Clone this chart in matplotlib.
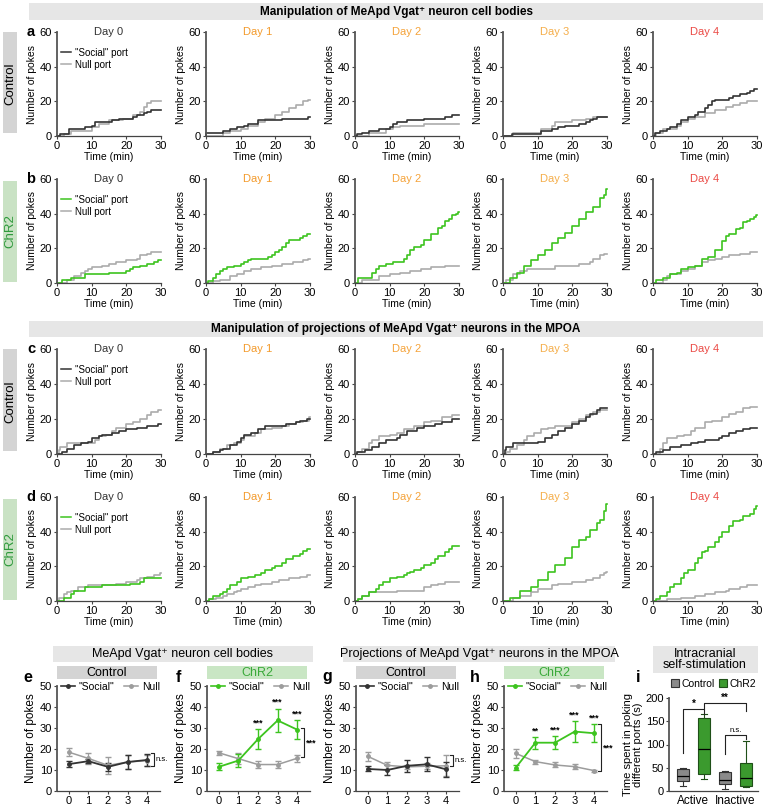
import matplotlib
matplotlib.use("Agg")
import matplotlib.pyplot as plt
from matplotlib.patches import Rectangle, Patch
from matplotlib.lines import Line2D
import numpy as np

plt.rcParams['font.family'] = ['Liberation Sans', 'DejaVu Sans']

W, H = 767, 807

GREEN = '#3dc41f'
DARK = '#333333'
LIGHT = '#ababab'
DAYS = ['Day 0', 'Day 1', 'Day 2', 'Day 3', 'Day 4']
DAY_COLORS = ['#333333', '#f39a2b', '#f5a33a', '#f5ae4a', '#eb4a45']

# cumulative pokes, (time min, count) knots per day 0..4
row_a_social = [
    [(1, 1), (3.5, 4), (8, 5), (10, 6), (11, 8), (16, 9), (18, 10), (22, 11), (23, 12), (25, 13), (26, 14), (27, 15)],
    [(0, 2), (5, 3), (7, 4), (9, 5), (11, 6), (12, 7), (15, 9), (22, 10), (29.5, 11)],
    [(0.5, 1), (2, 2), (4, 3), (7, 4), (10, 5), (11, 7), (12, 8), (15, 9), (20, 10), (26, 11), (28, 12)],
    [(2.5, 1), (11, 3), (14, 4), (16, 5), (18, 6), (22, 7), (24, 8), (25, 9), (26, 10), (27, 11)],
    [(0.5, 2), (2, 3), (4, 4), (5, 5), (7, 7), (8, 9), (10, 11), (12, 12), (13, 14), (15, 16), (16, 18),
     (17, 20), (18, 21), (22, 22), (23, 23), (25, 24), (27, 25), (28, 26), (29, 27)],
]
row_a_null = [
    [(2, 1), (4, 3), (10, 5), (12, 7), (15, 9), (19, 10), (22, 12), (24, 14), (25, 17), (26, 19), (27, 20)],
    [(5, 2), (7, 3), (10, 4), (12, 6), (15, 8), (17, 10), (20, 12), (22, 14), (24, 16), (26, 18), (28, 20), (29.5, 21)],
    [(4, 2), (9, 4), (11, 5), (13, 6), (20, 7)],
    [(3, 2), (11, 4), (14, 6), (15, 8), (20, 9), (24, 10), (26, 11)],
    [(1, 2), (3, 4), (7, 6), (8, 8), (10, 10), (12, 11), (15, 13), (18, 15), (21, 17), (23, 18), (25, 19), (27, 20)],
]
row_b_social = [
    [(1.5, 2), (4, 3), (8, 5), (15, 6), (20, 7), (21, 8), (22, 9), (24, 10), (26, 11), (28, 12), (29, 13)],
    [(0.5, 1), (2, 3), (3, 5), (4, 7), (5, 8), (6, 9), (8, 10), (10, 11), (11, 12), (12, 13), (13, 14), (18, 15),
     (19, 16), (20, 18), (21, 19), (22, 21), (23, 23), (24, 25), (27, 26), (28, 27), (29, 28)],
    [(1, 3), (5, 6), (6, 8), (7, 10), (9, 11), (11, 12), (14, 14), (15, 16), (16, 19), (17, 21), (19, 22),
     (20, 25), (22, 28), (24, 32), (25, 33), (26, 36), (27, 37), (28, 39), (29, 40), (29.8, 41)],
    [(2, 3), (4, 6), (6, 10), (8, 13), (10, 16), (12, 19), (14, 23), (16, 26), (18, 29), (20, 33), (22, 37),
     (24, 41), (26, 44), (28, 49), (29, 51), (29.8, 54)],
    [(1, 2), (3, 3), (5, 5), (7, 6), (8, 8), (10, 9), (12, 10), (14, 14), (16, 15), (18, 19), (20, 24), (21, 27),
     (22, 28), (24, 31), (25, 32), (26, 35), (27, 36), (28, 37), (29, 38), (29.8, 39)],
]
row_b_null = [
    [(3, 2), (5, 4), (7, 6), (8, 7), (9, 8), (10, 9), (13, 10), (15, 11), (17, 12), (20, 13), (23, 14), (24, 16), (26, 17), (27, 18)],
    [(2, 1), (4, 2), (7, 4), (9, 5), (11, 7), (13, 8), (16, 9), (19, 10), (22, 11), (25, 12), (28, 13), (29.5, 14)],
    [(2, 2), (7, 4), (10, 5), (13, 6), (16, 7), (19, 8), (22, 9), (26, 10)],
    [(1, 2), (3, 5), (5, 7), (7, 8), (15, 10), (22, 11), (25, 12), (26, 14), (28, 16), (29, 17)],
    [(3, 2), (4, 4), (5, 5), (8, 7), (10, 8), (12, 10), (14, 12), (16, 13), (18, 14), (20, 15), (22, 16), (25, 17), (28, 18)],
]
row_c_social = [
    [(1.5, 1), (3, 3), (5, 5), (7, 6), (9, 7), (10, 9), (12, 10), (13, 11), (16, 12), (18, 13), (20, 14), (23, 15), (26, 16), (29, 17)],
    [(2, 1), (4, 2), (5, 3), (7, 5), (9, 7), (10, 9), (11, 11), (13, 12), (15, 14), (17, 16), (23, 17), (26, 18), (27, 19), (29, 20)],
    [(0.5, 1), (3, 2), (5, 4), (7, 6), (9, 8), (12, 9), (13, 11), (15, 13), (18, 15), (20, 16), (23, 17), (25, 18), (28, 20)],
    [(0.5, 2), (1, 4), (3, 6), (10, 7), (12, 9), (14, 11), (16, 13), (18, 15), (20, 17), (22, 19), (24, 21), (25, 23), (27, 25), (28, 26)],
    [(1, 1), (3, 2), (5, 4), (8, 5), (11, 6), (13, 7), (15, 8), (19, 9), (20, 10), (22, 12), (24, 13), (26, 14), (28, 15)],
]
row_c_null = [
    [(0.5, 2), (1, 4), (3, 6), (11, 8), (12, 10), (14, 11), (16, 13), (17, 15), (20, 17), (22, 18), (24, 20), (26, 22), (27, 24), (29, 25)],
    [(2, 1), (4, 3), (6, 5), (8, 6), (10, 8), (11, 10), (14, 12), (16, 14), (19, 15), (22, 16), (24, 17), (26, 18), (28, 19), (29.8, 21)],
    [(0.5, 1), (2, 3), (4, 6), (5, 8), (7, 10), (10, 11), (12, 12), (14, 14), (17, 16), (20, 18), (22, 19), (25, 21), (28, 22)],
    [(1, 1), (2, 3), (4, 5), (6, 8), (7, 10), (9, 12), (11, 14), (13, 15), (15, 16), (20, 18), (22, 20), (24, 22), (26, 24), (28, 25)],
    [(2, 3), (3, 6), (4, 9), (7, 10), (9, 11), (11, 13), (12, 15), (15, 18), (17, 19), (20, 21), (22, 23), (24, 24), (26, 26), (28, 27)],
]
row_d_social = [
    [(2, 2), (4, 4), (5, 6), (8, 8), (13, 9), (21, 10), (24, 11), (25, 13)],
    [(1, 1), (2, 3), (4, 4), (5, 5), (6, 7), (7, 9), (9, 11), (10, 13), (12, 14), (14, 15), (16, 16), (17, 18),
     (19, 19), (20, 20), (22, 22), (23, 24), (25, 26), (27, 27), (28, 29), (29, 30)],
    [(1, 1), (2, 3), (4, 5), (6, 7), (7, 9), (8, 11), (10, 13), (12, 14), (14, 15), (15, 16), (16, 17), (17, 18),
     (19, 19), (20, 21), (22, 22), (23, 24), (24, 26), (26, 28), (27, 30), (28, 32)],
    [(2, 2), (5, 6), (8, 8), (10, 12), (13, 17), (15, 21), (18, 25), (20, 31), (22, 35), (24, 37), (25, 41),
     (27, 45), (28, 47), (29, 52), (29.8, 56)],
    [(1, 1), (2, 3), (4, 5), (5, 8), (6, 10), (8, 13), (9, 16), (10, 18), (12, 22), (13, 25), (14, 28), (15, 29),
     (16, 31), (18, 34), (19, 37), (20, 40), (22, 43), (23, 46), (25, 47), (26, 49), (28, 50), (29, 53), (29.8, 55)],
]
row_d_null = [
    [(0.5, 2), (2, 4), (3, 5), (4, 6), (6, 8), (9, 9), (17, 10), (20, 11), (23, 12), (24, 13), (26, 14), (28, 15), (29.8, 16)],
    [(1, 1), (3, 2), (5, 3), (6, 4), (8, 5), (9, 6), (10, 7), (12, 8), (14, 9), (16, 10), (19, 11), (21, 12), (24, 13), (27, 14), (29, 15)],
    [(1, 1), (2, 3), (4, 5), (12, 6), (20, 8), (22, 9), (24, 10), (26, 11)],
    [(3, 2), (5, 3), (8, 5), (10, 7), (14, 9), (16, 10), (20, 11), (24, 12), (26, 13), (28, 15), (29, 16), (29.8, 17)],
    [(4, 1), (8, 2), (12, 3), (15, 4), (18, 5), (21, 6), (22, 7), (25, 8), (27, 9)],
]

# mean +/- sem, days 0..4
e_social = [12.8, 14.2, 11.5, 13.8, 14.8]
e_social_err = [1.5, 1.0, 1.8, 3.2, 3.0]
e_null = [18.5, 15.5, 12.2, 13.8, 14.5]
e_null_err = [1.8, 2.5, 4.0, 3.5, 2.8]
f_social = [11.5, 14.5, 24.7, 33.6, 29.2]
f_social_err = [1.6, 3.2, 4.7, 5.6, 4.5]
f_null = [18.2, 15.4, 12.6, 12.6, 15.6]
f_null_err = [0.9, 2.5, 1.8, 1.6, 1.6]
g_social = [10.5, 10.0, 12.0, 12.7, 10.3]
g_social_err = [1.2, 2.5, 2.8, 3.3, 3.5]
g_null = [16.5, 12.2, 11.5, 11.8, 12.0]
g_null_err = [2.3, 1.5, 1.0, 1.5, 5.0]
h_social = [11.1, 23.0, 23.0, 28.3, 27.5]
h_social_err = [1.2, 2.8, 3.2, 5.0, 4.3]
h_null = [17.9, 14.0, 12.4, 11.6, 9.7]
h_null_err = [2.0, 1.0, 1.2, 1.2, 0.5]
f_stars = ['', '', '***', '***', '***']
h_stars = ['', '**', '***', '***', '***']

# ICSS box stats: control active, ChR2 active, control inactive, ChR2 inactive
box_whislo = [11, 25, 5, 9]
box_q1 = [21, 36, 15, 11]
box_med = [32, 90, 24, 29]
box_q3 = [47, 156, 40, 61]
box_whishi = [50, 165, 43, 108]

fig = plt.figure(figsize=(W / 100, H / 100), dpi=100)


def px_axes(left, top, right, bottom):
    return fig.add_axes([left / W, 1 - bottom / H, (right - left) / W, (bottom - top) / H])


def box(x0, y0, x1, y1, color):
    fig.add_artist(Rectangle((x0 / W, 1 - y1 / H), (x1 - x0) / W, (y1 - y0) / H,
                             transform=fig.transFigure, color=color, lw=0, zorder=0))


def ftext(x, y, s, **kw):
    fig.text(x / W, 1 - y / H, s, ha='center', va='center', **kw)


def style(ax, size=7.5):
    for s in ['top', 'right']:
        ax.spines[s].set_visible(False)
    ax.spines['left'].set_color('#555555')
    ax.spines['left'].set_linewidth(1.3)
    ax.spines['bottom'].set_color('#444444')
    ax.spines['bottom'].set_linewidth(0.9)
    ax.tick_params(length=2.5, width=0.8, labelsize=size, pad=1, color='#444444')


def curve(ax, pts, color):
    t = [0] + [p[0] for p in pts] + [30]
    n = [0] + [p[1] for p in pts] + [pts[-1][1]]
    ax.step(t, n, where='post', color=color, lw=1.2, clip_on=False)


# top headers
box(29, 3, 763, 20, '#e6e6e6')
ftext(396, 12, 'Manipulation of MeApd Vgat\u207a neuron cell bodies', fontsize=8.5, fontweight='bold')
box(29, 321, 763, 337, '#e6e6e6')
ftext(396, 329, 'Manipulation of projections of MeApd Vgat\u207a neurons in the MPOA', fontsize=8.5, fontweight='bold')

lefts = [57, 206, 355, 503, 653]
rows = [
    ('a', 32, 136, 'Control', row_a_social, row_a_null, DARK),
    ('b', 179, 283, 'ChR2', row_b_social, row_b_null, GREEN),
    ('c', 349, 454, 'Control', row_c_social, row_c_null, DARK),
    ('d', 497, 601, 'ChR2', row_d_social, row_d_null, GREEN),
]

for letter, top, bottom, group, socials, nulls, scol in rows:
    if group == 'Control':
        box(3, top, 17, bottom - 3, '#d4d4d4')
        ftext(10, (top + bottom) / 2, 'Control', fontsize=9.5, rotation=90)
    else:
        box(3, top + 2, 17, bottom - 1, '#c9e2c4')
        ftext(10, (top + bottom) / 2, 'ChR2', fontsize=9.5, rotation=90, color='#2f9a3c')
    ftext(31, top, letter, fontsize=10.5, fontweight='bold')
    for i, left in enumerate(lefts):
        ax = px_axes(left, top, left + 104, bottom)
        curve(ax, nulls[i], LIGHT)
        curve(ax, socials[i], scol)
        ax.set_xlim(0, 30)
        ax.set_ylim(0, 60)
        ax.set_xticks([0, 10, 20, 30])
        ax.set_yticks([0, 20, 40, 60])
        style(ax, 8)
        ax.set_ylabel('Number of pokes', fontsize=7.5, labelpad=2)
        ax.set_xlabel('Time (min)', fontsize=7.5, labelpad=1)
        ax.text(0.5, 1.0, DAYS[i], transform=ax.transAxes, ha='center', va='center',
                fontsize=8, color=DAY_COLORS[i])
        if i == 0:
            hs = [Line2D([], [], color=scol, lw=1.1), Line2D([], [], color=LIGHT, lw=1.1)]
            ax.legend(hs, ['"Social" port', 'Null port'], loc='upper left', bbox_to_anchor=(0.04, 0.85),
                      frameon=False, fontsize=7, handlelength=1.0, handletextpad=0.4,
                      labelspacing=0.2, borderaxespad=0, borderpad=0)

# bottom section headers
box(53, 646, 313, 662, '#e6e6e6')
ftext(183, 654, 'MeApd Vgat\u207a neuron cell bodies', fontsize=9)
box(343, 646, 615, 662, '#e6e6e6')
ftext(479, 654, 'Projections of MeApd Vgat\u207a neurons in the MPOA', fontsize=9)
box(653, 646, 758, 673, '#e6e6e6')
ftext(705, 659.5, 'Intracranial\nself-stimulation', fontsize=9, linespacing=0.95)

NULL_GRAY = '#9c9c9c'
panels = [
    ('e', 57, 'Control', e_social, e_social_err, e_null, e_null_err, DARK, None, (18, 12), 'n.s.'),
    ('f', 207, 'ChR2', f_social, f_social_err, f_null, f_null_err, GREEN, f_stars, (29.8, 16.2), '***'),
    ('g', 356, 'Control', g_social, g_social_err, g_null, g_null_err, DARK, None, (17, 12), 'n.s.'),
    ('h', 504, 'ChR2', h_social, h_social_err, h_null, h_null_err, GREEN, h_stars, (31.8, 9.5), '***'),
]
days = np.arange(5)
for letter, left, group, soc, soc_err, nul, nul_err, scol, stars, br, br_txt in panels:
    if group == 'Control':
        box(left, 666, left + 100, 679, '#d4d4d4')
        ftext(left + 50, 672.5, 'Control', fontsize=9)
    else:
        box(left, 666, left + 100, 679, '#c9e6c4')
        ftext(left + 50, 672.5, 'ChR2', fontsize=9, color='#3aaa3a')
    ftext(left - 29, 677, letter, fontsize=11.5, fontweight='bold')
    ax = px_axes(left, 686, left + 103, 791)
    ax.errorbar(days, nul, yerr=nul_err, color=NULL_GRAY, marker='o', ms=2.5, lw=1.1,
                capsize=2.5, elinewidth=0.9, clip_on=False)
    ax.errorbar(days, soc, yerr=soc_err, color=scol, marker='o', ms=2.5, lw=1.3,
                capsize=2.5, elinewidth=1.0, clip_on=False)
    if stars:
        for d in days:
            if stars[d]:
                ax.text(d, soc[d] + soc_err[d] + 0.8, stars[d], ha='center', va='bottom',
                        fontsize=6.5, fontweight='bold')
    bx = 4.32
    ax.plot([bx - 0.12, bx, bx, bx - 0.12], [br[0], br[0], br[1], br[1]], color='#222222',
            lw=0.8, clip_on=False)
    if br_txt == 'n.s.':
        ax.text(bx + 0.1, (br[0] + br[1]) / 2, br_txt, fontsize=5.5, va='center', ha='left')
    else:
        ax.text(bx + 0.12, (br[0] + br[1]) / 2, br_txt, fontsize=6.5, va='center', ha='left',
                fontweight='bold')
    ax.set_xlim(-0.6, 4.65)
    ax.set_ylim(0, 50)
    ax.set_xticks(days)
    ax.set_yticks([0, 10, 20, 30, 40, 50])
    style(ax, 8)
    ax.set_ylabel('Number of pokes', fontsize=8.5, labelpad=2)
    hs = [Line2D([], [], color=scol, marker='o', ms=2.5, lw=1.2),
          Line2D([], [], color=NULL_GRAY, marker='o', ms=2.5, lw=1.1)]
    ax.legend(hs, ['"Social"', 'Null'], loc='upper center', bbox_to_anchor=(0.52, 1.04), ncol=2,
              frameon=False, fontsize=7.5, handlelength=1.3, handletextpad=0.4,
              columnspacing=0.9, borderaxespad=0, borderpad=0)

# panel i
ftext(638, 677, 'i', fontsize=11.5, fontweight='bold')
ax = px_axes(669, 698, 758, 791)
stats = []
for k in range(4):
    stats.append(dict(med=box_med[k], q1=box_q1[k], q3=box_q3[k],
                      whislo=box_whislo[k], whishi=box_whishi[k], fliers=[]))
bp = ax.bxp(stats, positions=[0, 1, 2, 3], widths=0.58, patch_artist=True, showfliers=False,
            showcaps=True)
faces = ['#8a8a8a', '#3b9a2e', '#8a8a8a', '#3b9a2e']
edges = ['#333333', '#1f4f18', '#333333', '#1f4f18']
for k, patch in enumerate(bp['boxes']):
    patch.set_facecolor(faces[k])
    patch.set_edgecolor(edges[k])
    patch.set_linewidth(0.8)
for k in range(4):
    bp['medians'][k].set_color('black')
    bp['medians'][k].set_linewidth(0.9)
    for j in (2 * k, 2 * k + 1):
        bp['whiskers'][j].set_color(edges[k])
        bp['whiskers'][j].set_linewidth(0.8)
        bp['caps'][j].set_color(edges[k])
        bp['caps'][j].set_linewidth(0.8)


def bracket(ax, x0, x1, y, y0, y1, txt, fs, bold=True):
    ax.plot([x0, x0, x1, x1], [y0, y, y, y1], color='#222222', lw=0.8, clip_on=False)
    ax.text((x0 + x1) / 2, y + 1, txt, ha='center', va='bottom', fontsize=fs,
            fontweight='bold' if bold else 'normal')


bracket(ax, 0, 1, 176, 81, 166, '*', 7)
bracket(ax, 1, 3, 189, 176, 172, '**', 7)
bracket(ax, 2, 3, 121, 79, 111, 'n.s.', 5.5, bold=False)
ax.set_xlim(-0.67, 3.57)
ax.set_ylim(0, 200)
ax.set_yticks([0, 50, 100, 150, 200])
ax.set_xticks([0.48, 2.5])
ax.set_xticklabels(['Active', 'Inactive'])
style(ax, 8)
ax.tick_params(axis='x', length=0, labelsize=8.5, pad=3)
ax.set_ylabel('Time spent in poking\ndifferent ports (s)', fontsize=8, labelpad=2, linespacing=0.95)
lh = [Patch(facecolor='#8a8a8a', edgecolor='#333333', lw=0.8),
      Patch(facecolor='#3b9a2e', edgecolor='#1f4f18', lw=0.8)]
ax.legend(lh, ['Control', 'ChR2'], loc='lower center', bbox_to_anchor=(0.5, 1.1), ncol=2,
          frameon=False, fontsize=7.5, handlelength=0.8, handleheight=0.9, handletextpad=0.25,
          columnspacing=0.4, borderaxespad=0, borderpad=0)

fig.savefig('out.png', dpi=100)
